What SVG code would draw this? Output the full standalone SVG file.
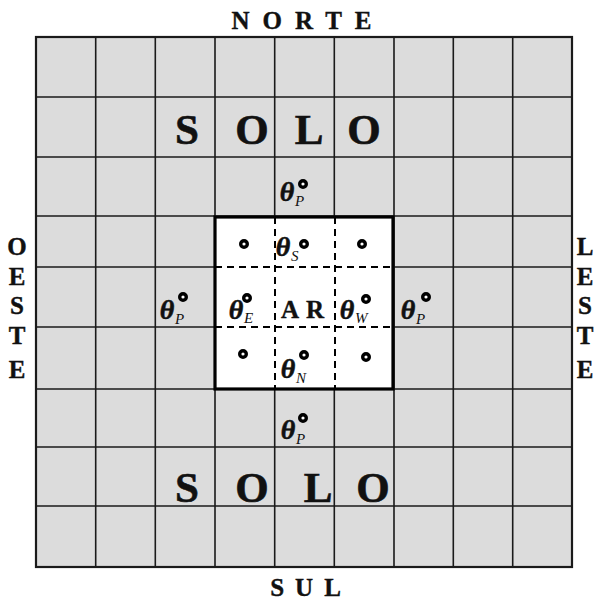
<svg xmlns="http://www.w3.org/2000/svg" width="603" height="604" viewBox="0 0 603 604">
<style>
.g{stroke:#1a1a1a;stroke-width:1.6;fill:none}
.lbl{font-family:"Liberation Serif","Times New Roman",serif;font-weight:bold;font-size:25px;fill:#111;stroke:#111;stroke-width:0.4;text-anchor:middle}
.solo{font-family:"Liberation Serif","Times New Roman",serif;font-weight:bold;font-size:43px;fill:#111;stroke:#111;stroke-width:0.6;text-anchor:middle}
.th{font-family:"Liberation Serif","Times New Roman",serif;font-weight:bold;font-style:italic;font-size:28px;fill:#111;stroke:#111;stroke-width:0.5;text-anchor:middle}
.sub{font-family:"Liberation Serif","Times New Roman",serif;font-style:italic;font-size:15px;fill:#111}
.ar{font-family:"Liberation Serif","Times New Roman",serif;font-weight:bold;font-size:25px;fill:#111;stroke:#111;stroke-width:0.4;text-anchor:middle}
.dot{fill:#fff;stroke:#000;stroke-width:3.4}
.dash{stroke:#000;stroke-width:2;stroke-dasharray:7 5;fill:none}
</style>
<rect width="603" height="604" fill="#fff"/>
<g id="grid">
<rect x="36" y="37" width="536" height="530" fill="#dcdcdc"/>
<path class="g" d="M95.7 37V567M155.3 37V567M215 37V567M274.7 37V567M334.3 37V567M394 37V567M453.3 37V567M512.7 37V567M36 97H572M36 157H572M36 216H572M36 267H572M36 327H572M36 389H572M36 447H572M36 506H572"/>
<rect x="36" y="37" width="536" height="530" fill="none" stroke="#1a1a1a" stroke-width="2.2"/>
</g>
<g id="ar-region">
<rect x="215" y="217" width="178" height="172" fill="#fff"/>
<path class="dash" d="M275 217V389M335 217V389M215 267H393M215 327H393"/>
<rect x="215" y="217" width="178" height="172" fill="none" stroke="#000" stroke-width="3.2"/>
</g>
<g id="labels">
<text class="lbl" x="308" y="29" letter-spacing="13">NORTE</text>
<text class="lbl" x="311" y="596" letter-spacing="11">SUL</text>
<g id="oeste"><text class="lbl" x="17" y="255">O</text><text class="lbl" x="17" y="285">E</text><text class="lbl" x="17" y="314">S</text><text class="lbl" x="17" y="344">T</text><text class="lbl" x="17" y="378">E</text></g>
<g id="leste"><text class="lbl" x="585" y="255">L</text><text class="lbl" x="585" y="285">E</text><text class="lbl" x="585" y="314">S</text><text class="lbl" x="585" y="344">T</text><text class="lbl" x="585" y="378">E</text></g>
<g id="solo-top"><text class="solo" x="187" y="144">S</text><text class="solo" x="252" y="144">O</text><text class="solo" x="309" y="144">L</text><text class="solo" x="364" y="144">O</text></g>
<g id="solo-bottom"><text class="solo" x="187" y="502">S</text><text class="solo" x="252" y="502">O</text><text class="solo" x="318" y="502">L</text><text class="solo" x="373" y="502">O</text></g>
<text class="ar" x="306" y="318" letter-spacing="7">AR</text>
</g>
<g id="theta-P-top"><text class="th" x="287" y="201">θ</text><text class="sub" x="295" y="206">P</text><circle class="dot" cx="303" cy="184" r="3.3"/></g>
<g id="theta-P-left"><text class="th" x="167" y="319">θ</text><text class="sub" x="175" y="324">P</text><circle class="dot" cx="183" cy="297" r="3.3"/></g>
<g id="theta-P-right"><text class="th" x="408" y="319">θ</text><text class="sub" x="416" y="324">P</text><circle class="dot" cx="426" cy="297" r="3.3"/></g>
<g id="theta-P-bottom"><text class="th" x="288" y="439">θ</text><text class="sub" x="296" y="444">P</text><circle class="dot" cx="303" cy="418" r="3.3"/></g>
<g id="theta-S"><text class="th" x="283" y="256">θ</text><text class="sub" x="291" y="261">S</text></g>
<g id="theta-E"><text class="th" x="236" y="319">θ</text><text class="sub" x="244" y="323">E</text></g>
<g id="theta-W"><text class="th" x="347" y="319">θ</text><text class="sub" x="355" y="323">W</text></g>
<g id="theta-N"><text class="th" x="288" y="378">θ</text><text class="sub" x="296" y="383">N</text></g>
<g id="dots">
<circle class="dot" cx="244" cy="244" r="3.3"/>
<circle class="dot" cx="304" cy="244" r="3.3"/>
<circle class="dot" cx="362" cy="244" r="3.3"/>
<circle class="dot" cx="247" cy="298" r="3.3"/>
<circle class="dot" cx="366" cy="299" r="3.3"/>
<circle class="dot" cx="243" cy="354" r="3.3"/>
<circle class="dot" cx="304" cy="355" r="3.3"/>
<circle class="dot" cx="366" cy="357" r="3.3"/>
</g>
</svg>
